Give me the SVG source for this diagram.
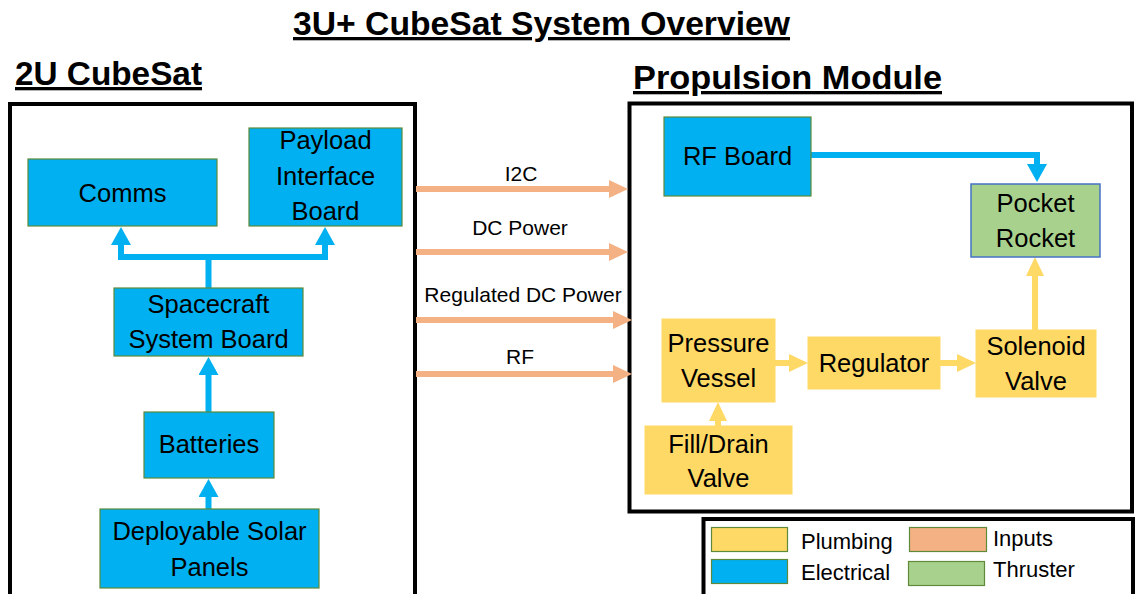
<svg xmlns="http://www.w3.org/2000/svg" width="1135" height="594" viewBox="0 0 1135 594">
<style>
  text { font-family: "Liberation Sans", Arial, sans-serif; fill: #000; }
  .hdr { font-weight: bold; font-size: 33px; text-decoration: underline; }
  .node { font-size: 25.5px; text-anchor: middle; }
  .lbl { font-size: 21px; text-anchor: middle; }
  .leg { font-size: 22px; }
  .frame { fill: none; stroke: #000; stroke-width: 4; }
  .elec { fill: #00B0F0; stroke: #5E8A3A; stroke-width: 1.2; }
  .plumb { fill: #FFD966; stroke: #FFD966; stroke-width: 1; }
  .thr { fill: #A9D18E; stroke: #4472C4; stroke-width: 1.5; }
  .inp { fill: #F4B183; stroke: #5E8A3A; stroke-width: 1.2; }
  .swatch-g { fill: #A9D18E; stroke: #5E8A3A; stroke-width: 1.2; }
  .swatch-y { fill: #FFD966; stroke: #5E8A3A; stroke-width: 1.2; }
  .c-elec { fill: none; stroke: #00B0F0; stroke-width: 6; }
  .c-inp { fill: none; stroke: #F4B183; stroke-width: 6; }
  .c-plumb { fill: none; stroke: #FFD966; stroke-width: 6; }
</style>
<defs>
  <marker id="ah-elec" markerUnits="userSpaceOnUse" markerWidth="20" markerHeight="20" refX="2" refY="10" orient="auto">
    <path d="M0,0 L18,10 L0,20 Z" fill="#00B0F0"/>
  </marker>
  <marker id="ah-inp" markerUnits="userSpaceOnUse" markerWidth="20" markerHeight="20" refX="2" refY="9" orient="auto">
    <path d="M0,0 L19,9 L0,18 Z" fill="#F4B183"/>
  </marker>
  <marker id="ah-plumb" markerUnits="userSpaceOnUse" markerWidth="20" markerHeight="20" refX="2" refY="9" orient="auto">
    <path d="M0,0 L19,9 L0,18 Z" fill="#FFD966"/>
  </marker>
</defs>
<rect width="1135" height="594" fill="#fff"/>

<!-- headers -->
<text class="hdr" x="541.5" y="35" text-anchor="middle" textLength="497" lengthAdjust="spacingAndGlyphs">3U+ CubeSat System Overview</text>
<text class="hdr" x="15" y="85" textLength="187" lengthAdjust="spacingAndGlyphs">2U CubeSat</text>
<text class="hdr" x="633" y="89" textLength="309" lengthAdjust="spacingAndGlyphs">Propulsion Module</text>

<!-- frames -->
<g id="frame-2u"><rect class="frame" x="10" y="104" width="405" height="520"/></g>
<g id="frame-prop"><rect class="frame" x="629.5" y="103.5" width="502.5" height="408"/></g>

<!-- connectors -->
<g id="connectors">
  <path class="c-elec" d="M208.5,288 V257 M121,257 H325 M121,260 V243" marker-end="url(#ah-elec)"/>
  <path class="c-elec" d="M325,260 V243" marker-end="url(#ah-elec)"/>
  <path class="c-elec" d="M208.5,412 V373" marker-end="url(#ah-elec)"/>
  <path class="c-elec" d="M208.5,509 V495" marker-end="url(#ah-elec)"/>
  <path class="c-elec" d="M811,155 H1037 V166" marker-end="url(#ah-elec)"/>

  <path class="c-inp" d="M416,189 H611" marker-end="url(#ah-inp)"/>
  <path class="c-inp" d="M416,252 H611" marker-end="url(#ah-inp)"/>
  <path class="c-inp" d="M416,320 H615" marker-end="url(#ah-inp)"/>
  <path class="c-inp" d="M416,374 H615" marker-end="url(#ah-inp)"/>

  <path class="c-plumb" d="M775,363 H791" marker-end="url(#ah-plumb)"/>
  <path class="c-plumb" d="M940,363 H959" marker-end="url(#ah-plumb)"/>
  <path class="c-plumb" d="M1035,330 V274" marker-end="url(#ah-plumb)"/>
  <path class="c-plumb" d="M718,426 V419" marker-end="url(#ah-plumb)"/>

  <text class="lbl" x="521" y="181">I2C</text>
  <text class="lbl" x="520" y="235">DC Power</text>
  <text class="lbl" x="523" y="302">Regulated DC Power</text>
  <text class="lbl" x="520" y="364">RF</text>
</g>

<!-- 2U CubeSat nodes -->
<g id="comms">
  <rect class="elec" x="28" y="159" width="189" height="67"/>
  <text class="node" x="122.5" y="202">Comms</text>
</g>
<g id="payload-interface-board">
  <rect class="elec" x="249" y="128" width="153" height="98"/>
  <text class="node" x="325.5" y="149">Payload</text>
  <text class="node" x="325.5" y="185">Interface</text>
  <text class="node" x="325.5" y="220">Board</text>
</g>
<g id="spacecraft-system-board">
  <rect class="elec" x="114" y="288" width="189" height="68"/>
  <text class="node" x="208.5" y="313">Spacecraft</text>
  <text class="node" x="208.5" y="348">System Board</text>
</g>
<g id="batteries">
  <rect class="elec" x="144" y="412" width="130" height="66"/>
  <text class="node" x="209" y="453">Batteries</text>
</g>
<g id="solar-panels">
  <rect class="elec" x="100" y="509" width="219" height="79"/>
  <text class="node" x="209.5" y="540">Deployable Solar</text>
  <text class="node" x="209.5" y="576">Panels</text>
</g>

<!-- Propulsion nodes -->
<g id="rf-board">
  <rect class="elec" x="664" y="117" width="147" height="79"/>
  <text class="node" x="737.5" y="165">RF Board</text>
</g>
<g id="pocket-rocket">
  <rect class="thr" x="971" y="184" width="129" height="73"/>
  <text class="node" x="1035.5" y="212">Pocket</text>
  <text class="node" x="1035.5" y="247">Rocket</text>
</g>
<g id="pressure-vessel">
  <rect class="plumb" x="662" y="319" width="113" height="83"/>
  <text class="node" x="718.5" y="352">Pressure</text>
  <text class="node" x="718.5" y="387">Vessel</text>
</g>
<g id="regulator">
  <rect class="plumb" x="808" y="337" width="132" height="52"/>
  <text class="node" x="874" y="372">Regulator</text>
</g>
<g id="solenoid-valve">
  <rect class="plumb" x="976" y="330" width="120" height="67"/>
  <text class="node" x="1036" y="355">Solenoid</text>
  <text class="node" x="1036" y="390">Valve</text>
</g>
<g id="fill-drain-valve">
  <rect class="plumb" x="645" y="426" width="147" height="68"/>
  <text class="node" x="718.5" y="453">Fill/Drain</text>
  <text class="node" x="718.5" y="487">Valve</text>
</g>

<!-- legend -->
<g id="legend">
  <rect class="frame" x="703.5" y="519" width="429.5" height="90"/>
  <rect class="swatch-y" x="711.5" y="527.5" width="76" height="24"/>
  <text class="leg" x="801" y="549">Plumbing</text>
  <rect class="elec" x="711.5" y="559.5" width="76" height="24"/>
  <text class="leg" x="801" y="580">Electrical</text>
  <rect class="inp" x="909.5" y="527.5" width="77" height="24"/>
  <text class="leg" x="993" y="546">Inputs</text>
  <rect class="swatch-g" x="908.5" y="561.5" width="76" height="24"/>
  <text class="leg" x="993" y="577">Thruster</text>
</g>
</svg>
